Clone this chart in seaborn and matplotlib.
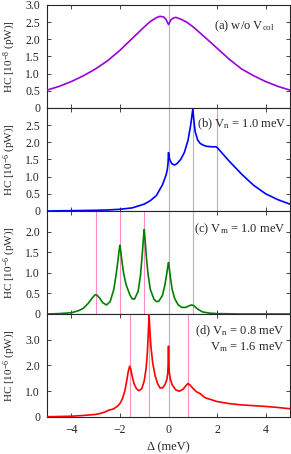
import numpy as np
import pandas as pd
import matplotlib
matplotlib.use("Agg")
import matplotlib.pyplot as plt
from matplotlib.ticker import FuncFormatter, MultipleLocator
import seaborn as sns

# (a) w/o V_col
xa = [-5, -4.5, -4, -3.5, -3, -2.5, -2, -1.5, -1, -0.75, -0.5, -0.35, -0.2, -0.1, -0.05, 0,
      0.05, 0.1, 0.2, 0.3, 0.5, 0.75, 1, 1.5, 2, 2.5, 3, 3.5, 4, 4.5, 5]
ya = [0.52, 0.63, 0.77, 0.94, 1.14, 1.38, 1.68, 2.02, 2.36, 2.52, 2.63, 2.67, 2.65, 2.58, 2.5, 2.43,
      2.5, 2.57, 2.62, 2.64, 2.59, 2.5, 2.37, 2.06, 1.74, 1.42, 1.14, 0.94, 0.77, 0.63, 0.52]

# (b) Vn = 1.0 meV
xb = [-5, -4, -3, -2.5, -2, -1.5, -1, -0.75, -0.5, -0.25, -0.1, -0.05, -0.02, 0, 0.03, 0.08, 0.15,
      0.25, 0.35, 0.5, 0.65, 0.8, 0.9, 0.95, 1.0, 1.05, 1.1, 1.2, 1.3, 1.45, 1.6, 1.8, 1.95, 2.0,
      2.1, 2.25, 2.5, 3, 3.5, 4, 4.5, 5]
yb = [0.0, 0.01, 0.02, 0.03, 0.05, 0.09, 0.2, 0.3, 0.45, 0.76, 1.05, 1.2, 1.38, 1.7, 1.55, 1.45, 1.37,
      1.34, 1.38, 1.5, 1.7, 2.05, 2.45, 2.7, 2.97, 2.6, 2.3, 2.07, 1.97, 1.91, 1.88, 1.87, 1.87, 1.85,
      1.77, 1.65, 1.45, 1.08, 0.75, 0.5, 0.33, 0.2]

# (c) Vm = 1.0 meV
xc = [-5, -4.5, -4, -3.7, -3.5, -3.3, -3.15, -3.05, -3.0, -2.95, -2.85, -2.7, -2.55, -2.4, -2.25,
      -2.15, -2.08, -2.03, -2.0, -1.97, -1.92, -1.85, -1.75, -1.6, -1.5, -1.4, -1.25, -1.15, -1.08,
      -1.03, -1.0, -0.97, -0.92, -0.85, -0.75, -0.6, -0.5, -0.4, -0.25, -0.15, -0.08, -0.03, 0,
      0.03, 0.08, 0.15, 0.25, 0.4, 0.55, 0.7, 0.85, 0.95, 1.05, 1.2, 1.4, 1.7, 2, 3, 4, 5]
yc = [0.0, 0.01, 0.03, 0.08, 0.14, 0.26, 0.38, 0.45, 0.47, 0.46, 0.4, 0.27, 0.22, 0.3, 0.6,
      0.98, 1.3, 1.55, 1.67, 1.55, 1.3, 1.0, 0.72, 0.48, 0.37, 0.36, 0.55, 0.95, 1.45,
      1.85, 2.05, 1.85, 1.45, 1.0, 0.6, 0.36, 0.3, 0.31, 0.45, 0.7, 0.95, 1.15, 1.25,
      1.12, 0.88, 0.6, 0.38, 0.22, 0.16, 0.16, 0.2, 0.22, 0.2, 0.12, 0.05, 0.02, 0.01, 0.0, 0.0, 0.0]

# (d) Vn = 0.8 meV, Vm = 1.6 meV
xd = [-5, -4.5, -4, -3.5, -3, -2.8, -2.6, -2.45, -2.35, -2.25, -2.1, -2.0, -1.9, -1.8, -1.72, -1.66,
      -1.6, -1.55, -1.5, -1.42, -1.32, -1.22, -1.1, -1.0, -0.92, -0.87, -0.83, -0.8, -0.77, -0.72,
      -0.65, -0.55, -0.45, -0.35, -0.25, -0.15, -0.07, -0.03, -0.01, 0, 0.01, 0.03, 0.07, 0.15,
      0.3, 0.45, 0.6, 0.72, 0.8, 0.88, 1.0, 1.15, 1.3, 1.5, 2, 2.5, 3, 3.5, 4, 4.5, 5]
yd = [0.01, 0.02, 0.03, 0.06, 0.1, 0.14, 0.2, 0.27, 0.29, 0.32, 0.42, 0.52, 0.7, 1.0, 1.4, 1.75,
      1.97, 1.85, 1.6, 1.3, 1.1, 1.02, 1.1, 1.4, 1.9, 2.5, 3.3, 3.98, 3.4, 2.7,
      2.1, 1.6, 1.3, 1.13, 1.13, 1.25, 1.45, 1.7, 2.2, 2.75, 2.2, 1.75, 1.5, 1.25,
      1.05, 1.0, 1.08, 1.22, 1.3, 1.25, 1.12, 0.98, 0.91, 0.75, 0.6, 0.52, 0.47, 0.44, 0.41, 0.37, 0.32]

vlines_a = [0]
vlines_b = [0, 1, 2]
vlines_c = [-3, -2, -1, 0, 1]
vlines_d = [-1.6, -0.8, 0, 0.8]

labels = ["(a) w/o V$_\\mathrm{col}$", "(b) V$_\\mathrm{n}$ = 1.0 meV",
          "(c) V$_\\mathrm{m}$ = 1.0 meV", "(d) V$_\\mathrm{n}$ = 0.8 meV"]
label_d2 = "V$_\\mathrm{m}$ = 1.6 meV"
ylabels = ["HC [10$^{-8}$ (pW)]"] + ["HC [10$^{-6}$ (pW)]"] * 3

sns.set_style("ticks")
plt.rcParams['font.family'] = ['Liberation Serif', 'DejaVu Serif']
plt.rcParams['mathtext.fontset'] = 'custom'
plt.rcParams['mathtext.rm'] = 'Liberation Serif'
plt.rcParams['mathtext.it'] = 'Liberation Serif:italic'
plt.rcParams['font.size'] = 9

fig, axes = plt.subplots(4, 1, figsize=(2.91, 4.54), dpi=100, sharex=True)
fig.subplots_adjust(left=0.1615, right=0.9966, top=0.989, bottom=0.0815, hspace=0)

panels = [
    (xa, ya, '#9a00d8', vlines_a, 3.0, 0.5),
    (xb, yb, '#0000ff', vlines_b, 3.0, 0.5),
    (xc, yc, '#008000', vlines_c, 2.5, 0.5),
    (xd, yd, '#ff0000', vlines_d, 4.0, 1.0),
]
text_pos = [(0.938, 0.762), (0.988, 0.816), (0.983, 0.79), (0.979, 0.805)]

fmt = FuncFormatter(lambda v, p: "0" if abs(v) < 1e-9 else f"{v:.1f}")

for i, (ax, (x, y, col, vl, ymax, step)) in enumerate(zip(axes, panels)):
    for v in vl:
        ax.axvline(v, color='#ff8cc6', lw=0.8, zorder=1)
    df = pd.DataFrame({'x': x, 'y': y})
    sns.lineplot(data=df, x='x', y='y', ax=ax, color=col, lw=1.2, estimator=None, sort=False, zorder=3)
    ax.set_xlim(-5, 5)
    ax.set_ylim(0, ymax)
    ax.xaxis.set_major_locator(MultipleLocator(2))
    yt = np.arange(0, ymax + 1e-9, step)
    ax.set_yticks(yt)
    if i == 0:
        ax.set_yticklabels([fmt(t, None) for t in yt])
    else:
        # top tick label is covered by the panel above
        ax.set_yticklabels([fmt(t, None) if t < ymax - 1e-9 else "" for t in yt])
    ax.tick_params(direction='in', length=3, width=0.6, top=True, right=True, labelsize=8.5, pad=5)
    for s in ax.spines.values():
        s.set_linewidth(0.8)
    ax.set_ylabel(ylabels[i], fontsize=8)
    ax.yaxis.set_label_coords(-0.12, 0.5)
    ax.set_xlabel("")
    tx, ty = text_pos[i]
    ax.text(tx, ty, labels[i], transform=ax.transAxes, ha='right', va='baseline', fontsize=9)

axes[3].text(0.979, 0.651, label_d2, transform=axes[3].transAxes, ha='right', va='baseline', fontsize=9)
axes[3].set_xlabel("Δ (meV)", fontsize=9, labelpad=4)
axes[3].tick_params(axis='x', pad=5)

fig.savefig("out.png", dpi=100)
